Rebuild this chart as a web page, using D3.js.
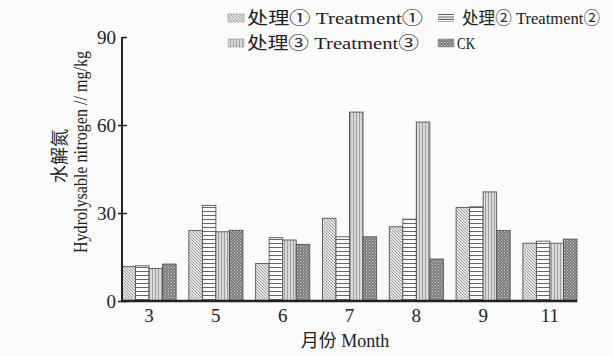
<!DOCTYPE html>
<html>
<head>
<meta charset="utf-8">
<script src="https://cdn.jsdelivr.net/npm/d3@7"></script>
<style>
  html, body { margin: 0; padding: 0; background: #fbfbfb; }
  svg { display: block; }
  text { font-family: "Liberation Serif", "Noto Sans CJK SC", serif; fill: #222; }
</style>
</head>
<body>
<svg id="chart" width="613" height="356"></svg>
<script>
// Sampling months
const months = ["3", "5", "6", "7", "8", "9", "11"];
// Hydrolysable nitrogen (mg/kg) per treatment
const treatment1 = [11.7, 24.0, 12.8, 28.2, 25.3, 31.9, 19.7];
const treatment2 = [12.0, 32.6, 21.6, 21.9, 27.9, 32.1, 20.4];
const treatment3 = [11.1, 23.6, 20.8, 64.4, 61.0, 37.2, 19.7];
const ck         = [12.6, 24.1, 19.3, 21.9, 14.3, 24.0, 21.1];
const seriesNames = ["处理① Treatment①", "处理② Treatment②", "处理③ Treatment③", "CK"];
const yTicks = [0, 30, 60, 90];

const series = [treatment1, treatment2, treatment3, ck];
const patternIds = ["p-diag", "p-horiz", "p-vert", "p-check"];

const svg = d3.select("#chart");
const defs = svg.append("defs");

// diagonal hatch
const p1 = defs.append("pattern").attr("id", "p-diag").attr("patternUnits", "userSpaceOnUse")
  .attr("width", 3).attr("height", 3);
p1.append("rect").attr("width", 3).attr("height", 3).attr("fill", "#e6e6e6");
p1.append("path").attr("d", "M-1,-1 L4,4 M-1,2 L1,4 M2,-1 L4,1").attr("stroke", "#8a8a8a").attr("stroke-width", 0.8);

// horizontal lines
const p2 = defs.append("pattern").attr("id", "p-horiz").attr("patternUnits", "userSpaceOnUse")
  .attr("width", 4).attr("height", 4);
p2.append("rect").attr("width", 4).attr("height", 4).attr("fill", "#fafafa");
p2.append("rect").attr("y", 3).attr("width", 4).attr("height", 1).attr("fill", "#666");

// finer horizontal lines for the legend key
const p2s = defs.append("pattern").attr("id", "p-horiz-s").attr("patternUnits", "userSpaceOnUse")
  .attr("width", 4).attr("height", 2.5);
p2s.append("rect").attr("width", 4).attr("height", 2.5).attr("fill", "#fafafa");
p2s.append("rect").attr("y", 1.5).attr("width", 4).attr("height", 1).attr("fill", "#555");

// vertical lines
const p3 = defs.append("pattern").attr("id", "p-vert").attr("patternUnits", "userSpaceOnUse")
  .attr("width", 3).attr("height", 3);
p3.append("rect").attr("width", 3).attr("height", 3).attr("fill", "#d9d9d9");
p3.append("rect").attr("x", 2).attr("width", 1).attr("height", 3).attr("fill", "#a0a0a0");

// checker
const p4 = defs.append("pattern").attr("id", "p-check").attr("patternUnits", "userSpaceOnUse")
  .attr("width", 3).attr("height", 3);
p4.append("rect").attr("width", 3).attr("height", 3).attr("fill", "#7a7a7a");
p4.append("rect").attr("x", 0).attr("y", 0).attr("width", 1).attr("height", 1).attr("fill", "#d0d0d0");
p4.append("rect").attr("x", 1.5).attr("y", 1.5).attr("width", 1).attr("height", 1).attr("fill", "#d0d0d0");

const x0 = 122, x1 = 577, yBase = 301, yTop = 37;

const x = d3.scaleBand().domain(months).range([x0, x1]).paddingInner(0.19).paddingOuter(0);
const xs = d3.scaleBand().domain(d3.range(4)).range([0, x.bandwidth()]);
const y = d3.scaleLinear().domain([0, 90]).range([yBase, yTop]);

// bars
const g = svg.append("g");
months.forEach((m, i) => {
  series.forEach((s, k) => {
    g.append("rect")
      .attr("x", x(m) + xs(k))
      .attr("y", y(s[i]))
      .attr("width", xs.bandwidth())
      .attr("height", y(0) - y(s[i]))
      .attr("fill", `url(#${patternIds[k]})`)
      .attr("stroke", "#555")
      .attr("stroke-width", 0.9);
  });
});

// y axis
const yAxis = d3.axisLeft(y).tickValues(yTicks).tickSize(0).tickPadding(6);
const ya = svg.append("g").attr("transform", `translate(${x0},0)`).call(yAxis);
ya.select(".domain").remove();
ya.selectAll("text").style("font-size", "19px").style("font-family", "Liberation Serif");
ya.selectAll(".tick").append("line")
  .attr("x1", d => d === 90 ? 0 : -4).attr("x2", 5).attr("stroke", "#222").attr("stroke-width", 1.5);
svg.append("line").attr("x1", x0).attr("x2", x0).attr("y1", y(90)).attr("y2", yBase)
  .attr("stroke", "#222").attr("stroke-width", 2);

// x axis
const xAxis = d3.axisBottom(x).tickSize(0).tickPadding(8);
const xa = svg.append("g").attr("transform", `translate(0,${yBase})`).call(xAxis);
xa.select(".domain").remove();
xa.selectAll("text").style("font-size", "19px").style("font-family", "Liberation Serif");
svg.append("line").attr("x1", x0 - 1).attr("x2", x1).attr("y1", yBase).attr("y2", yBase)
  .attr("stroke", "#222").attr("stroke-width", 2.5);

// axis titles
svg.append("text").attr("x", 345).attr("y", 347).attr("text-anchor", "middle")
  .style("font-size", "18px").text("月份 Month");

const yt = svg.append("g").attr("transform", "translate(0,152) rotate(-90)");
yt.append("text").attr("x", -4).attr("y", 66).attr("text-anchor", "middle")
  .style("font-size", "18px").text("水解氮");
yt.append("text").attr("x", 0).attr("y", 87).attr("text-anchor", "middle")
  .style("font-size", "18px").attr("textLength", 202).attr("lengthAdjust", "spacingAndGlyphs")
  .text("Hydrolysable nitrogen // mg/kg");

// legend
const legendPos = [[228, 18], [438, 18], [228, 43], [438, 43]];
const legendLen = [176, 138, 172, 18];
const legendFill = ["p-diag", "p-horiz-s", "p-vert", "p-check"];
seriesNames.forEach((name, k) => {
  const [lx, ly] = legendPos[k];
  svg.append("rect").attr("x", lx).attr("y", ly - 4).attr("width", 16).attr("height", 8)
    .attr("fill", `url(#${legendFill[k]})`).attr("stroke", k === 1 ? "none" : "#888").attr("stroke-width", 0.5);
  svg.append("text").attr("x", lx + 19 + (k === 1 ? 5 : 0)).attr("y", ly + 6)
    .style("font-size", "17px")
    .attr("textLength", legendLen[k]).attr("lengthAdjust", "spacingAndGlyphs")
    .text(name);
});
</script>
</body>
</html>
